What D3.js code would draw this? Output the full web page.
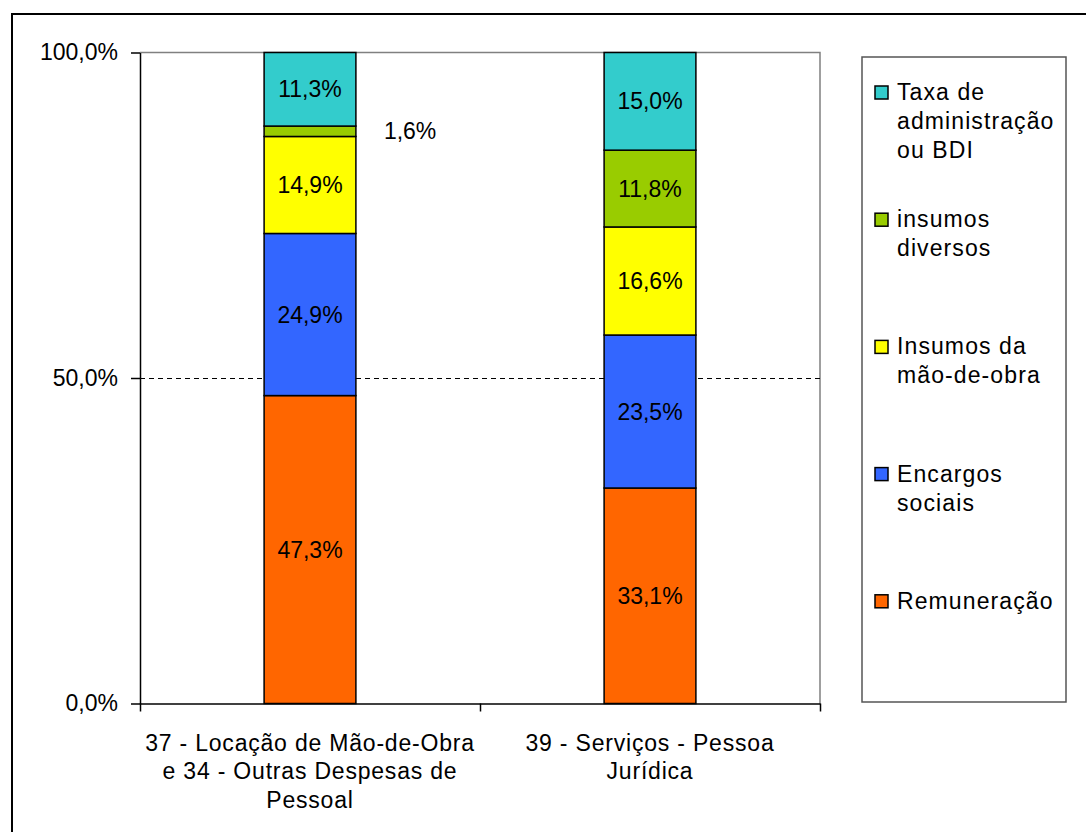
<!DOCTYPE html>
<html>
<head>
<meta charset="utf-8">
<script src="https://cdn.jsdelivr.net/npm/d3@7"></script>
<style>
  body { margin: 0; background: #fff; }
  svg { font-family: "Liberation Sans", Arial, sans-serif; }
</style>
</head>
<body>
<div id="chart"></div>
<script>
// categories (x axis) and their wrapped label lines
const categories = ["37 - Locação de Mão-de-Obra e 34 - Outras Despesas de Pessoal", "39 - Serviços - Pessoa Jurídica"]
const categoryLines = [
    ["37 - Locação de Mão-de-Obra", "e 34 - Outras Despesas de", "Pessoal"],
    ["39 - Serviços - Pessoa", "Jurídica"]
]

// series, bottom to top of the stack
const seriesNames = ["Remuneração", "Encargos sociais", "Insumos da mão-de-obra", "insumos diversos", "Taxa de administração ou BDI"]
const legendLines = [
    ["Remuneração"],
    ["Encargos", "sociais"],
    ["Insumos da", "mão-de-obra"],
    ["insumos", "diversos"],
    ["Taxa de", "administração", "ou BDI"]
]
const remuneracao = [47.3, 33.1]
const encargos = [24.9, 23.5]
const insumosMaoDeObra = [14.9, 16.6]
const insumosDiversos = [1.6, 11.8]
const taxaAdministracao = [11.3, 15.0]

const yTicks = [0, 50, 100]

const seriesColors = ["#FF6600", "#3366FF", "#FFFF00", "#99CC00", "#33CCCC"]

const width = 1086, height = 832
const margin = ({ top: 52.5, right: 266, bottom: 128.5, left: 140 })

const table = categories.map((c, i) => ({
    category: c,
    [seriesNames[0]]: remuneracao[i],
    [seriesNames[1]]: encargos[i],
    [seriesNames[2]]: insumosMaoDeObra[i],
    [seriesNames[3]]: insumosDiversos[i],
    [seriesNames[4]]: taxaAdministracao[i]
}))

const stacked = d3.stack().keys(seriesNames)(table)

const color = d3.scaleOrdinal().domain(seriesNames).range(seriesColors)

const x = d3.scaleBand()
    .domain(categories)
    .range([margin.left, width - margin.right])
    .padding(0)

const barWidth = x.bandwidth() * 0.27

const y = d3.scaleLinear()
    .domain([0, 100])
    .range([height - margin.bottom, margin.top])

const fmt = v => v.toFixed(1).replace(".", ",") + "%"

const svg = d3.select("#chart")
    .append("svg")
    .attr("width", width)
    .attr("height", height)

// outer frame (runs off the picture to the right and bottom)
svg.append("rect")
    .attr("x", 12)
    .attr("y", 14)
    .attr("width", width + 20)
    .attr("height", height + 20)
    .attr("fill", "none")
    .attr("stroke", "#000")
    .attr("stroke-width", 2)

// plot area border (top and right, gray)
svg.append("path")
    .attr("d", `M${margin.left},${y(100)}H${width - margin.right}V${y(0)}`)
    .attr("fill", "none")
    .attr("stroke", "#808080")
    .attr("stroke-width", 1.5)

// dashed gridline at 50%
svg.append("line")
    .attr("x1", margin.left)
    .attr("x2", width - margin.right)
    .attr("y1", Math.round(y(50)) + 0.5)
    .attr("y2", Math.round(y(50)) + 0.5)
    .attr("stroke", "#000")
    .attr("stroke-dasharray", "5,4")

// bars
svg.append("g")
    .selectAll("g")
    .data(stacked)
    .join("g")
    .attr("fill", d => color(d.key))
    .selectAll("rect")
    .data(d => d)
    .join("rect")
    .attr("x", d => x(d.data.category) + (x.bandwidth() - barWidth) / 2)
    .attr("y", d => y(d[1]))
    .attr("height", d => y(d[0]) - y(d[1]))
    .attr("width", barWidth)
    .attr("stroke", "#000")
    .attr("stroke-width", 1.5)

// data labels
svg.append("g")
    .attr("font-size", 23)
    .attr("fill", "#000")
    .selectAll("g")
    .data(stacked)
    .join("g")
    .selectAll("text")
    .data(d => d)
    .join("text")
    .attr("x", d => {
        const v = d[1] - d[0]
        const cx = x(d.data.category) + x.bandwidth() / 2
        return v < 5 ? cx + barWidth / 2 + 28 : cx
    })
    .attr("y", d => y((d[0] + d[1]) / 2))
    .attr("dy", "0.35em")
    .attr("text-anchor", d => (d[1] - d[0]) < 5 ? "start" : "middle")
    .text(d => fmt(d[1] - d[0]))

// y axis
yAxis = g => g
    .attr("transform", `translate(${margin.left},0)`)
    .call(d3.axisLeft(y).tickValues(yTicks).tickFormat(fmt).tickSize(9).tickPadding(13).tickSizeOuter(0))
    .call(g => g.select(".domain").attr("stroke-width", 1.5))
    .call(g => g.selectAll(".tick line").attr("stroke-width", 1.5))
    .call(g => g.selectAll("text")
        .attr("font-size", 23)
        .attr("font-family", "Liberation Sans, Arial, sans-serif")
        .attr("fill", "#000"))

// x axis: ticks sit on band edges
const xEdges = d3.scaleLinear().domain([0, categories.length]).range(x.range())

xAxis = g => g
    .attr("transform", `translate(0,${height - margin.bottom})`)
    .call(d3.axisBottom(xEdges).tickValues(d3.range(categories.length + 1)).tickFormat("").tickSize(8).tickSizeOuter(0))
    .call(g => g.select(".domain").attr("stroke-width", 1.5))
    .call(g => g.selectAll(".tick line").attr("stroke-width", 1.5))

svg.append("g").call(yAxis)
svg.append("g").call(xAxis)

// category labels
svg.append("g")
    .attr("font-size", 23)
    .attr("letter-spacing", 0.8)
    .attr("text-anchor", "middle")
    .selectAll("text")
    .data(categories)
    .join("text")
    .attr("x", d => x(d) + x.bandwidth() / 2)
    .attr("y", height - margin.bottom + 47)
    .selectAll("tspan")
    .data((d, i) => categoryLines[i])
    .join("tspan")
    .attr("x", function () { return this.parentNode.getAttribute("x") })
    .attr("dy", (d, i) => i === 0 ? 0 : 28.5)
    .text(d => d)

// legend
const legendBox = ({ x: 862, y: 57, w: 204, h: 645 })
svg.append("rect")
    .attr("x", legendBox.x)
    .attr("y", legendBox.y)
    .attr("width", legendBox.w)
    .attr("height", legendBox.h)
    .attr("fill", "#fff")
    .attr("stroke", "#555")
    .attr("stroke-width", 1.5)

const legendOrder = d3.range(seriesNames.length).reverse()
const legendItem = svg.append("g")
    .selectAll("g")
    .data(legendOrder)
    .join("g")
    .attr("transform", (d, i) => `translate(${legendBox.x + 13},${92 + i * 127.2})`)

legendItem.append("rect")
    .attr("x", 0)
    .attr("y", -6)
    .attr("width", 13)
    .attr("height", 13)
    .attr("fill", d => seriesColors[d])
    .attr("stroke", "#000")
    .attr("stroke-width", 1.5)

legendItem.append("text")
    .attr("font-size", 23)
    .attr("letter-spacing", 1.1)
    .attr("x", 22)
    .attr("y", 0)
    .selectAll("tspan")
    .data(d => legendLines[d])
    .join("tspan")
    .attr("x", 22)
    .attr("dy", (d, i) => i === 0 ? "0.35em" : 29)
    .text(d => d)
</script>
</body>
</html>
